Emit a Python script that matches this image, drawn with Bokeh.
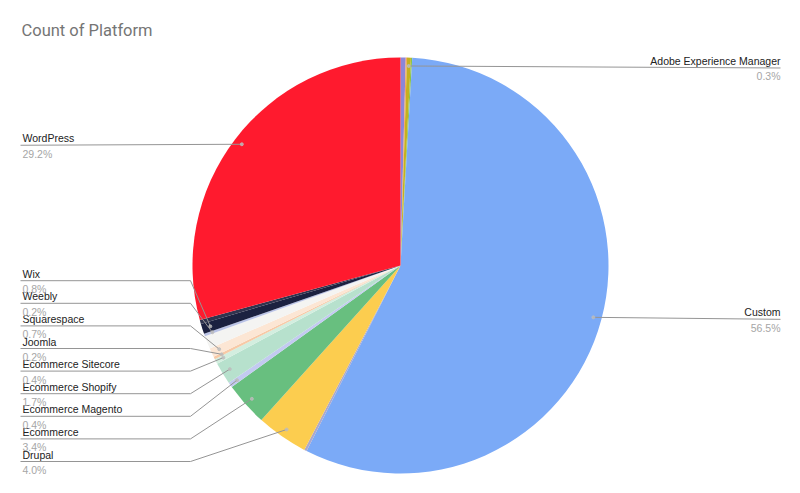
import numpy as np
from bokeh.plotting import figure
from bokeh.models import ColumnDataSource, Range1d
from bokeh.embed import file_html
from bokeh.resources import INLINE
from bokeh.core.properties import value

# ---- data (clockwise from 12 o'clock; "" = slice without a label) ----
platforms = ["", "", "Adobe Experience Manager", "", "Custom", "", "Drupal",
             "Ecommerce", "Ecommerce Magento", "Ecommerce Shopify",
             "Ecommerce Sitecore", "Joomla", "Squarespace", "", "Weebly",
             "Wix", "", "WordPress"]
shares = [0.4, 0.1, 0.3, 0.1, 56.5, 0.2, 4.0, 3.4, 0.4, 1.7, 0.4, 0.2, 0.7,
          1.0, 0.2, 0.8, 0.3, 29.2]
colors = ["#8C86D8", "#F4A261", "#C6B01E", "#8BC34A", "#7BAAF7", "#ABA8CC",
          "#FCCD4F", "#68BF7F", "#C3CAF1", "#B7E1CD", "#D3EEDF", "#F7C9A6",
          "#FCE6D4", "#F4F4F2", "#BAC3E6", "#1B2140", "#30344F", "#FF1A2E"]
title_text = "Count of Platform"

# ---- geometry: 1 data unit = pie radius (208 px), centre at ref pixel (400,265)
R = 208.0
def X(px):
    return (px - 400.0) / R
def Y(py):
    return (265.0 - py) / R

vals = np.array(shares, dtype=float)
frac = vals / vals.sum()
cum_end = np.cumsum(frac)
cum_start = cum_end - frac
start_angle = np.pi / 2 - 2 * np.pi * cum_end
end_angle = np.pi / 2 - 2 * np.pi * cum_start
mid = np.pi / 2 - 2 * np.pi * (cum_start + frac / 2)

p = figure(width=784, height=477, output_backend="svg", toolbar_location=None,
           x_range=Range1d(X(0), X(784)), y_range=Range1d(Y(477), Y(0)),
           min_border=0, x_axis_location=None, y_axis_location=None,
           outline_line_color=None, background_fill_color="white",
           border_fill_color="white")
p.xgrid.visible = False
p.ygrid.visible = False

src = ColumnDataSource(dict(start=start_angle, end=end_angle, color=colors,
                            name=platforms))
p.wedge(x=0, y=0, radius=1.0, start_angle="start", end_angle="end",
        fill_color="color", line_color=None, source=src)

# ---- labels & leader lines ----
font = value("Liberation Sans")
line_col = "#959595"
lx, ly, dot_x, dot_y = [], [], [], []
nm_x, nm_y, nm_t, nm_al = [], [], [], []
pc_x, pc_y, pc_t, pc_al = [], [], [], []

r_pt = 0.96
labeled = [i for i, n in enumerate(platforms) if n]
stack_left = ["Drupal", "Ecommerce", "Ecommerce Magento", "Ecommerce Shopify",
              "Ecommerce Sitecore", "Joomla", "Squarespace", "Weebly", "Wix"]
for i in labeled:
    ptx = r_pt * np.cos(mid[i])
    pty = r_pt * np.sin(mid[i])
    dot_x.append(ptx)
    dot_y.append(pty)
    name = platforms[i]
    pct = f"{shares[i]:.1f}%"
    if ptx > 0:
        yl = pty - 2.0 / R
        lx.append([ptx, X(780)])
        ly.append([pty, yl])
        tx, al = X(780), "right"
    elif name in stack_left:
        k = stack_left.index(name)
        yl = Y(461 - 22.6 * k)
        lx.append([X(20), X(190), ptx])
        ly.append([yl, yl, pty])
        tx, al = X(22), "left"
    else:
        yl = pty - 1.0 / R
        lx.append([X(20), ptx])
        ly.append([yl, pty])
        tx, al = X(22), "left"
    nm_x.append(tx); nm_y.append(yl + 1.0 / R); nm_t.append(name); nm_al.append(al)
    pc_x.append(tx); pc_y.append(yl - 2.5 / R); pc_t.append(pct); pc_al.append(al)

p.multi_line(xs=lx, ys=ly, line_color=line_col, line_width=1)
p.scatter(x=dot_x, y=dot_y, size=3, color="#BDBDBD", alpha=0.8)

p.text(x=nm_x, y=nm_y, text=nm_t, text_align=nm_al, text_baseline="bottom",
       text_font=font, text_font_size="10.5px", text_color="#222222")
p.text(x=pc_x, y=pc_y, text=pc_t, text_align=pc_al, text_baseline="top",
       text_font=font, text_font_size="10.5px", text_color="#A6A6A6")

p.text(x=[X(21)], y=[Y(30)], text=[title_text], text_align="left",
       text_baseline="middle", text_font=value("Roboto"),
       text_font_size="16.5px", text_color="#757575")

open("out.html", "w").write(file_html(p, INLINE))
